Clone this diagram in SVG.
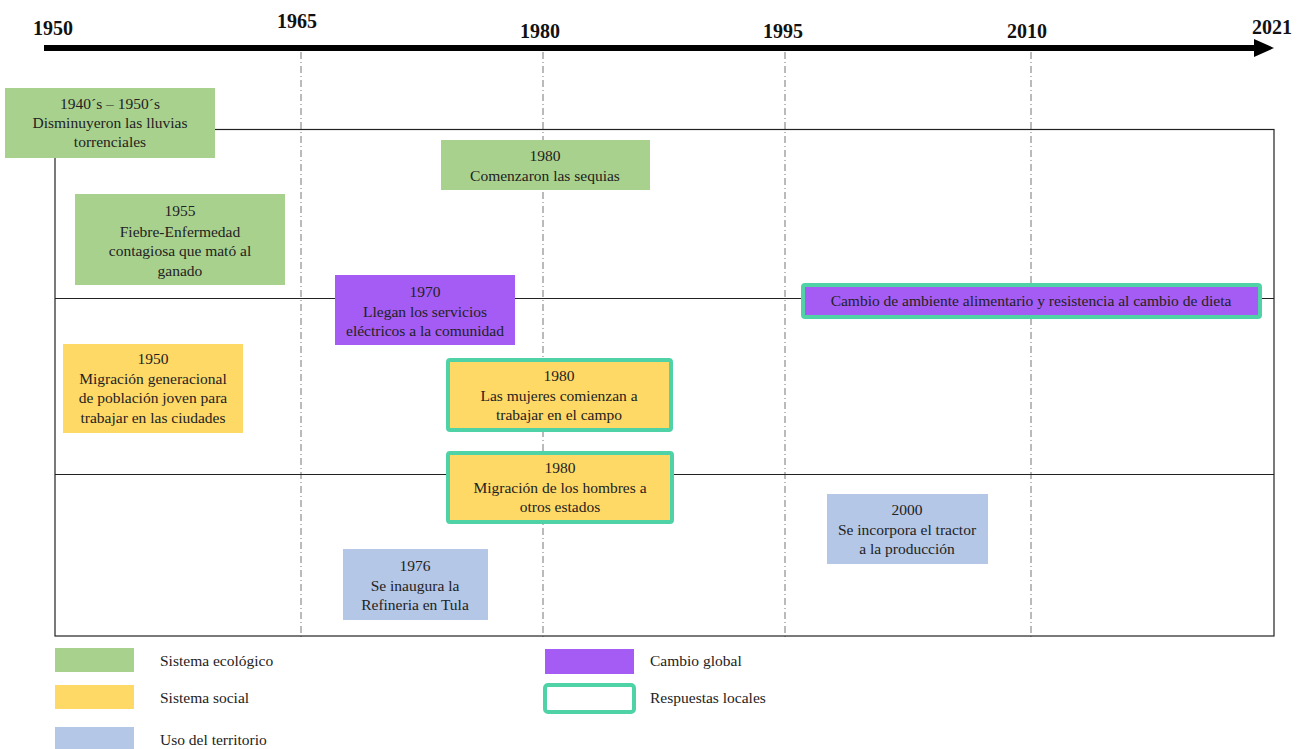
<svg xmlns="http://www.w3.org/2000/svg" width="1298" height="749" viewBox="0 0 1298 749">
<defs>
<style>
.yr{font-family:"Liberation Serif",serif;font-weight:bold;font-size:20px;fill:#111}
.t{font-family:"Liberation Serif",serif;font-size:15.5px;fill:#222;text-anchor:middle}
.lg{font-family:"Liberation Serif",serif;font-size:15.5px;fill:#222}
.eco{fill:#a9d18e}
.soc{fill:#ffd966}
.uso{fill:#b4c7e7}
.glo{fill:#a45cf4}
.resp{stroke:#4fd3a6;stroke-width:4}
.grid{stroke:#777;stroke-width:1;stroke-dasharray:7 3 1 3;fill:none}
.frame{stroke:#222;stroke-width:1.2;fill:none}
</style>
</defs>
<rect x="0" y="0" width="1298" height="749" fill="#fff"/>
<g id="axis">
<line x1="44" y1="48" x2="1258" y2="48" stroke="#000" stroke-width="6"/>
<polygon points="1254,39 1274,48 1254,57" fill="#000"/>
<text class="yr" x="33" y="35">1950</text>
<text class="yr" x="277" y="28">1965</text>
<text class="yr" x="520" y="38">1980</text>
<text class="yr" x="763" y="38">1995</text>
<text class="yr" x="1007" y="38">2010</text>
<text class="yr" x="1252" y="34">2021</text>
</g>
<g id="grid">
<line class="grid" x1="301" y1="52" x2="301" y2="638"/>
<line class="grid" x1="543" y1="52" x2="543" y2="638"/>
<line class="grid" x1="785" y1="52" x2="785" y2="638"/>
<line class="grid" x1="1031" y1="52" x2="1031" y2="638"/>
</g>
<g id="connectors">
<rect class="frame" x="55" y="129.5" width="1219" height="506.5"/>
<line class="frame" x1="55" y1="298.5" x2="1274" y2="298.5"/>
<line class="frame" x1="55" y1="474.5" x2="1274" y2="474.5"/>
</g>
<g id="n1">
<rect class="eco" x="5" y="88" width="210" height="70"/>
<text class="t" x="110" y="109">1940´s – 1950´s</text>
<text class="t" x="110" y="128">Disminuyeron las lluvias</text>
<text class="t" x="110" y="147">torrenciales</text>
</g>
<g id="n2">
<rect class="eco" x="441" y="140" width="209" height="50"/>
<text class="t" x="545" y="161">1980</text>
<text class="t" x="545" y="181">Comenzaron las sequias</text>
</g>
<g id="n3">
<rect class="eco" x="75" y="194" width="210" height="91"/>
<text class="t" x="180" y="216">1955</text>
<text class="t" x="180" y="237">Fiebre-Enfermedad</text>
<text class="t" x="180" y="256">contagiosa que mató al</text>
<text class="t" x="180" y="276">ganado</text>
</g>
<g id="n4">
<rect class="glo" x="335" y="275" width="180" height="70"/>
<text class="t" x="425" y="297">1970</text>
<text class="t" x="425" y="317">Llegan los servicios</text>
<text class="t" x="425" y="336">eléctricos a la comunidad</text>
</g>
<g id="n5">
<rect class="glo resp" x="803" y="285" width="457" height="32" rx="2"/>
<text class="t" x="1031" y="306">Cambio de ambiente alimentario y resistencia al cambio de dieta</text>
</g>
<g id="n6">
<rect class="soc" x="63" y="344" width="180" height="89"/>
<text class="t" x="153" y="364">1950</text>
<text class="t" x="153" y="384">Migración generacional</text>
<text class="t" x="153" y="403">de población joven para</text>
<text class="t" x="153" y="423">trabajar en las ciudades</text>
</g>
<g id="n7">
<rect class="soc resp" x="448" y="360" width="223" height="70" rx="2"/>
<text class="t" x="559" y="381">1980</text>
<text class="t" x="559" y="401">Las mujeres comienzan a</text>
<text class="t" x="559" y="420">trabajar en el campo</text>
</g>
<g id="n8">
<rect class="soc resp" x="448" y="453" width="224" height="69" rx="2"/>
<text class="t" x="560" y="473">1980</text>
<text class="t" x="560" y="493">Migración de los hombres a</text>
<text class="t" x="560" y="512">otros estados</text>
</g>
<g id="n9">
<rect class="uso" x="343" y="549" width="145" height="71"/>
<text class="t" x="415" y="571">1976</text>
<text class="t" x="415" y="591">Se inaugura la</text>
<text class="t" x="415" y="610">Refineria en Tula</text>
</g>
<g id="n10">
<rect class="uso" x="827" y="494" width="161" height="70"/>
<text class="t" x="907" y="515">2000</text>
<text class="t" x="907" y="535">Se incorpora el tractor</text>
<text class="t" x="907" y="554">a la producción</text>
</g>
<g id="legend">
<rect class="eco" x="55" y="648" width="79" height="24"/>
<text class="lg" x="160" y="666">Sistema ecológico</text>
<rect class="soc" x="55" y="685" width="79" height="24"/>
<text class="lg" x="160" y="703">Sistema social</text>
<rect class="uso" x="55" y="727" width="79" height="24"/>
<text class="lg" x="160" y="745">Uso del territorio</text>
<rect class="glo" x="545" y="649" width="89" height="25"/>
<text class="lg" x="650" y="666">Cambio global</text>
<rect class="resp" x="545" y="685" width="89" height="27" rx="3" fill="#fff"/>
<text class="lg" x="650" y="703">Respuestas locales</text>
</g>
</svg>
